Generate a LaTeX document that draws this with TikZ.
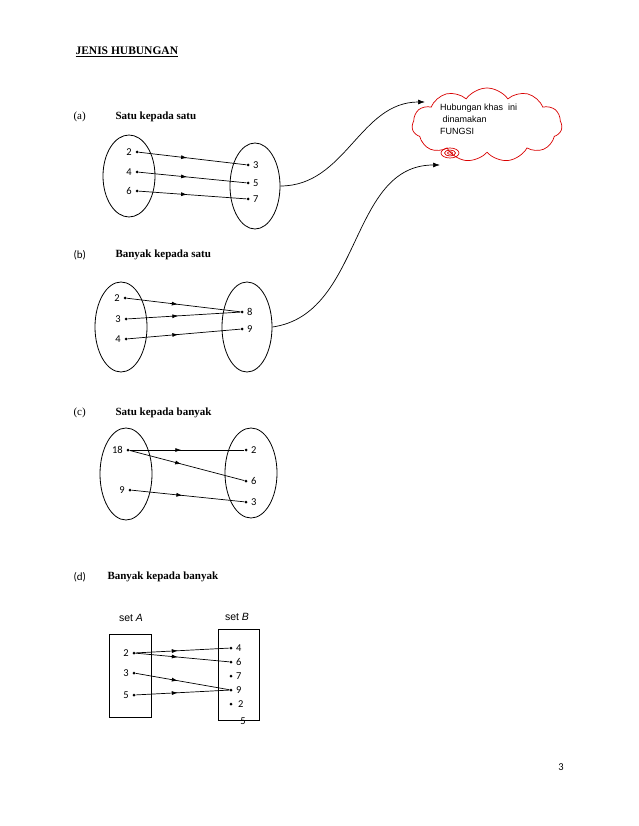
\documentclass[tikz,border=0pt]{standalone}
\usepackage{fontspec}
\setmainfont{Liberation Serif}
\newfontfamily\calibri{Carlito}
\newfontfamily\arial{Liberation Sans}
\usepackage{tikz}
\usetikzlibrary{positioning, shapes.geometric, shapes.symbols, arrows.meta, decorations.markings}

\begin{document}
\begin{tikzpicture}[
    x=1pt, y=-1pt,
    font=\calibri\fontsize{10.5}{12}\selectfont,
    heading/.style={anchor=west, font=\fontsize{11}{13}\selectfont\bfseries},
    tag/.style={anchor=west, font=\fontsize{11}{13}\selectfont},
    set_ell/.style={ellipse, draw, line width=0.8pt, minimum width=52, minimum height=84},
    set_box/.style={rectangle, draw, line width=0.8pt},
    elem/.style={circle, fill=black, inner sep=0pt, minimum size=3pt},
    map/.style={line width=0.7pt, decoration={markings, mark=at position 0.45 with {\arrow{Latex[length=6pt,width=4pt]}}}, postaction={decorate}},
    curve/.style={-{Latex[length=7pt,width=5pt]}, line width=0.7pt}
]
\useasboundingbox (0,0) rectangle (638,826);

% Title
\node[anchor=west, font=\fontsize{11.5}{13}\selectfont\bfseries] (title) at (72,52) {\underline{JENIS HUBUNGAN}};

% (a) Satu kepada satu
\node[tag] (tagA) at (70,117) {(a)};
\node[heading] (headA) at (112,117) {Satu kepada satu};
\node[set_ell, minimum height=82] (setA1) at (129,176) {};
\node[set_ell, minimum width=50, minimum height=86] (setA2) at (255,186) {};
\node[elem, label={[label distance=0pt]left:2}] (a2) at (137,152) {};
\node[elem, label={[label distance=0pt]left:4}] (a4) at (137,172) {};
\node[elem, label={[label distance=0pt]left:6}] (a6) at (137,191) {};
\node[elem, label={[label distance=0pt]right:3}] (a3) at (248,165) {};
\node[elem, label={[label distance=0pt]right:5}] (a5) at (248,183) {};
\node[elem, label={[label distance=0pt]right:7}] (a7) at (248,199) {};
\draw[map] (a2) -- (a3);
\draw[map] (a4) -- (a5);
\draw[map] (a6) -- (a7);

% Cloud note
\node[cloud, cloud puffs=11, cloud puff arc=110, aspect=2, draw=red!85!black, line width=0.7pt, fill=white,
      minimum width=150, minimum height=74] (fungsi) at (487,125) {};
\node[anchor=north west, align=left, font=\arial\fontsize{9}{12}\selectfont, inner sep=0pt] (fungsiText) at (440,104)
    {Hubungan khas\ \ ini\\ \ dinamakan\\FUNGSI};
\draw[red!85!black, line width=0.7pt] (450,153) ellipse (9 and 5) (450,153) ellipse (5.5 and 3) (450,153) ellipse (2.5 and 1.3);
\coordinate (tipA) at (425,102);
\coordinate (tipB) at (440,165);

% (b) Banyak kepada satu
\node[tag, font=\calibri\fontsize{11}{13}\selectfont] (tagB) at (70,255) {(b)};
\node[heading] (headB) at (112,255) {Banyak kepada satu};
\node[set_ell, minimum height=90] (setB1) at (121,327) {};
\node[set_ell, minimum width=50, minimum height=90] (setB2) at (247,327) {};
\node[elem, label={[label distance=0pt]left:2}] (b2) at (125,298) {};
\node[elem, label={[label distance=0pt]left:3}] (b3) at (126,319) {};
\node[elem, label={[label distance=0pt]left:4}] (b4) at (126,339) {};
\node[elem, label={[label distance=0pt]right:8}] (b8) at (242,312) {};
\node[elem, label={[label distance=0pt]right:9}] (b9) at (242,329) {};
\draw[map] (b2) -- (b8);
\draw[map] (b3) -- (b8);
\draw[map] (b4) -- (b9);

% Connectors to the cloud
\draw[curve] (setA2.east) to[out=0, in=180] (tipA);
\draw[curve] (setB2.east) to[out=8, in=180] (tipB);

% (c) Satu kepada banyak
\node[tag] (tagC) at (70,413) {(c)};
\node[heading] (headC) at (112,413) {Satu kepada banyak};
\node[set_ell, minimum height=92] (setC1) at (126,474) {};
\node[set_ell, minimum height=90] (setC2) at (251,473) {};
\node[elem, label={[label distance=0pt]left:18}] (c18) at (128,450) {};
\node[elem, label={[label distance=0pt]left:9}] (c9) at (130,490) {};
\node[elem, label={[label distance=0pt]right:2}] (c2) at (246,450) {};
\node[elem, label={[label distance=0pt]right:6}] (c6) at (246,481) {};
\node[elem, label={[label distance=0pt]right:3}] (c3) at (246,502) {};
\draw[map] (c18) -- (c2);
\draw[map] (c18) -- (c6);
\draw[map] (c9) -- (c3);

% (d) Banyak kepada banyak
\node[tag, font=\calibri\fontsize{11}{13}\selectfont] (tagD) at (70,577) {(d)};
\node[heading] (headD) at (104,577) {Banyak kepada banyak};
\node[font=\arial\fontsize{10.5}{12}\selectfont] (nameA) at (131,618) {set \textit{A}};
\node[font=\arial\fontsize{10.5}{12}\selectfont] (nameB) at (237,617) {set \textit{B}};
\node[set_box, minimum width=42, minimum height=83] (boxA) at (130,675.5) {};
\node[set_box, minimum width=41, minimum height=91] (boxB) at (238.5,674.5) {};
\node[elem, label={[label distance=0pt]left:2}] (d2) at (134,653) {};
\node[elem, label={[label distance=0pt]left:3}] (d3) at (134,673) {};
\node[elem, label={[label distance=0pt]left:5}] (d5) at (134,695) {};
\node[elem, label={[label distance=0pt]right:4}] (e4) at (231,648) {};
\node[elem, label={[label distance=0pt]right:6}] (e6) at (231,662) {};
\node[elem, label={[label distance=0pt]right:7}] (e7) at (231,676) {};
\node[elem, label={[label distance=0pt]right:9}] (e9) at (231,690) {};
\node[elem, label={[label distance=2pt]right:2}] (e2) at (231,704) {};
\node (e5) at (243,721) {5};
\draw[map] (d2) -- (e4);
\draw[map] (d2) -- (e6);
\draw[map] (d3) -- (e9);
\draw[map] (d5) -- (e9);

% Page number
\node (page) at (561,767) {3};

\end{tikzpicture}
\end{document}
